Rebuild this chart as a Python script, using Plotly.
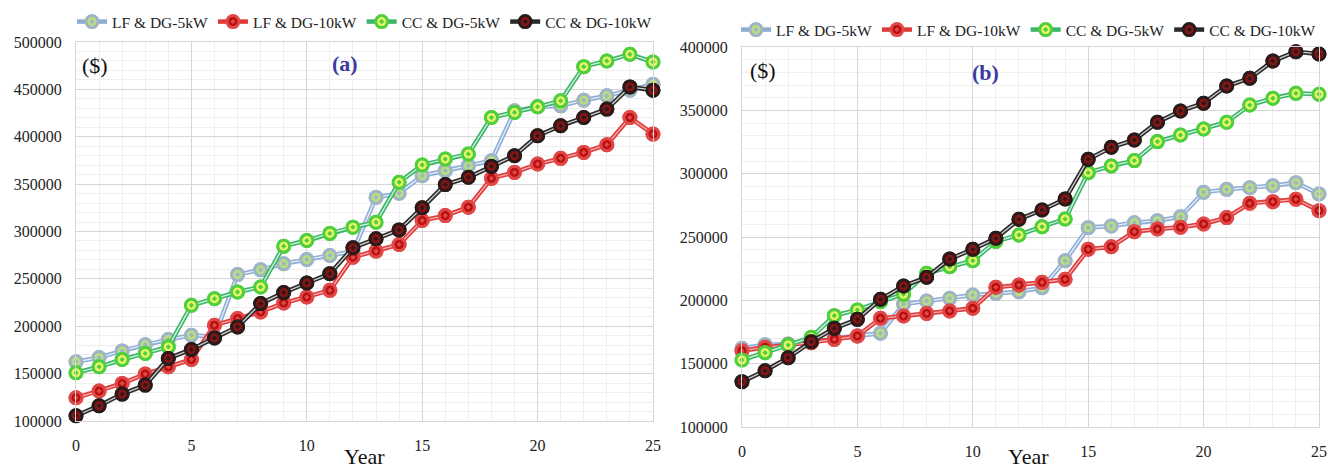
import plotly.graph_objects as go

years = list(range(26))

a_lf5 = [162500, 167000, 174000, 180500, 186000, 190500, 189000, 254500, 259500, 266000, 270500, 274700,
         279000, 336000, 340300, 358900, 364200, 369500, 374700, 427400, 431600, 432600, 438600, 443200, 449100, 455400]
a_lf10 = [124500, 131600, 139700, 149500, 157200, 164900, 201100, 208100, 215100, 224500, 230800, 237900,
          272900, 279300, 286300, 311600, 316800, 325600, 356100, 362400, 371200, 377200, 383500, 391600, 420300, 402800]
a_cc5 = [150800, 157200, 164900, 171300, 178200, 222100, 229100, 236100, 241400, 284500, 290500, 298000,
         304500, 309800, 351900, 370200, 376500, 381800, 420300, 425600, 431600, 437900, 474000, 480000, 487000, 478900]
a_cc10 = [105600, 116100, 128400, 137900, 166000, 175500, 187700, 199300, 223900, 235500, 245600, 255500,
          282800, 292300, 301700, 325000, 349500, 357200, 368700, 380000, 401000, 411600, 420300, 429200, 452600, 449100]

b_lf5 = [162100, 165000, 165500, 166500, 170000, 171800, 174000, 197100, 199500, 201600, 204200, 205500,
         206800, 210000, 231300, 257400, 258700, 261300, 262900, 266000, 285300, 287600, 288900, 290500, 292900, 284000]
b_lf10 = [160200, 163000, 164700, 166600, 169200, 171800, 185800, 187600, 189700, 191600, 193700, 210300,
          212100, 214200, 216600, 240300, 242300, 254200, 256300, 257700, 260300, 265300, 276600, 277900, 279800, 270800]
b_cc5 = [152900, 158700, 164700, 170800, 187900, 192400, 198900, 204800, 221300, 226600, 231300, 246500,
         251600, 258100, 264200, 300800, 306100, 310300, 325300, 330500, 335300, 340600, 354200, 359500, 363400, 362700]
b_cc10 = [135800, 144400, 154700, 167300, 177900, 185000, 200800, 211300, 218200, 232600, 240300, 249000,
          264000, 271300, 280000, 311300, 320800, 326600, 340600, 349500, 355600, 369200, 375300, 388900, 396300, 394500]

names = ["LF & DG-5kW", "LF & DG-10kW", "CC & DG-5kW", "CC & DG-10kW"]
# line colour, inner line colour, marker fill, marker ring
styles = [
    ("#8eadd6", "#e8f0fa", "#b9e07e", "#9fb4c4"),
    ("#e03a3a", "#f6b0b0", "#b80f0f", "#e04848"),
    ("#3cb56a", "#d5f5df", "#e8f56a", "#4fcf3c"),
    ("#2b2b2b", "#d0d0d0", "#8b1515", "#2a1a1a"),
]

FONT = "Liberation Serif"
fig = go.Figure()


def add_panel(series, xa, ya, legend):
    for name, ys, (lc, ic, mf, mr) in zip(names, series, styles):
        fig.add_trace(go.Scatter(x=years, y=ys, name=name, mode="lines+markers",
                                 line=dict(color=lc, width=4.5),
                                 marker=dict(symbol="circle-dot", size=12, color=mf,
                                             line=dict(color=mr, width=3)),
                                 xaxis=xa, yaxis=ya, legend=legend, cliponaxis=False))
        fig.add_trace(go.Scatter(x=years, y=ys, mode="lines", showlegend=False,
                                 line=dict(color=ic, width=1.3), hoverinfo="skip",
                                 xaxis=xa, yaxis=ya))
        fig.add_trace(go.Scatter(x=years, y=ys, mode="markers", showlegend=False,
                                 marker=dict(symbol="circle-dot", size=12, color=mf,
                                             line=dict(color=mr, width=3)),
                                 xaxis=xa, yaxis=ya, cliponaxis=False))


add_panel([a_lf5, a_lf10, a_cc5, a_cc10], "x", "y", "legend")
add_panel([b_lf5, b_lf10, b_cc5, b_cc10], "x2", "y2", "legend2")

W, H = 1328, 470
axis_common = dict(showgrid=True, gridcolor="#d6d6d6", gridwidth=1,
                   showline=True, linecolor="#d6d6d6", mirror=True,
                   zeroline=False, ticks="", ticklabelstandoff=10,
                   tickfont=dict(family=FONT, size=16, color="#222222"))
xminor = dict(showgrid=True, gridcolor="#efefef", dtick=1)
yminor = dict(showgrid=True, gridcolor="#efefef", dtick=10000)

legend_common = dict(orientation="h", xanchor="left", yanchor="top",
                     font=dict(family=FONT, size=15.5, color="#222222"), itemwidth=30,
                     bgcolor="rgba(0,0,0,0)")

fig.update_layout(
    width=W, height=H, margin=dict(l=0, r=0, t=0, b=0, autoexpand=False),
    paper_bgcolor="white", plot_bgcolor="white",
    font=dict(family=FONT, size=16, color="#222222"),
    xaxis=dict(domain=[76 / W, 653 / W], range=[0, 25], dtick=5, tick0=0,
               anchor="y", minor=xminor, **axis_common),
    yaxis=dict(domain=[1 - 421 / H, 1 - 42 / H], range=[100000, 500000], dtick=50000,
               tickformat="d", anchor="x", minor=yminor, **axis_common),
    xaxis2=dict(domain=[742 / W, 1319 / W], range=[0, 25], dtick=5, tick0=0,
                anchor="y2", minor=xminor, **axis_common),
    yaxis2=dict(domain=[1 - 427 / H, 1 - 47 / H], range=[100000, 400000], dtick=50000,
                tickformat="d", anchor="x2", minor=yminor, **axis_common),
    legend=dict(x=72 / W, y=1 - 5 / H, **legend_common),
    legend2=dict(x=736 / W, y=1 - 13 / H, **legend_common),
    showlegend=True,
)

annots = [
    dict(text="($)", x=95 / W, y=1 - 66 / H, size=22, color="#111111", bold=False),
    dict(text="(a)", x=345 / W, y=1 - 63 / H, size=22, color="#3a3aa0", bold=True),
    dict(text="Year", x=364 / W, y=1 - 456 / H, size=22, color="#111111", bold=False),
    dict(text="($)", x=763 / W, y=1 - 70 / H, size=22, color="#111111", bold=False),
    dict(text="(b)", x=985 / W, y=1 - 72 / H, size=22, color="#3a3aa0", bold=True),
    dict(text="Year", x=1028 / W, y=1 - 456 / H, size=22, color="#111111", bold=False),
]
for a in annots:
    txt = f"<b>{a['text']}</b>" if a["bold"] else a["text"]
    fig.add_annotation(text=txt, x=a["x"], y=a["y"], xref="paper", yref="paper",
                       xanchor="center", yanchor="middle", showarrow=False,
                       font=dict(family=FONT, size=a["size"], color=a["color"]))

fig.write_html("out.html")
